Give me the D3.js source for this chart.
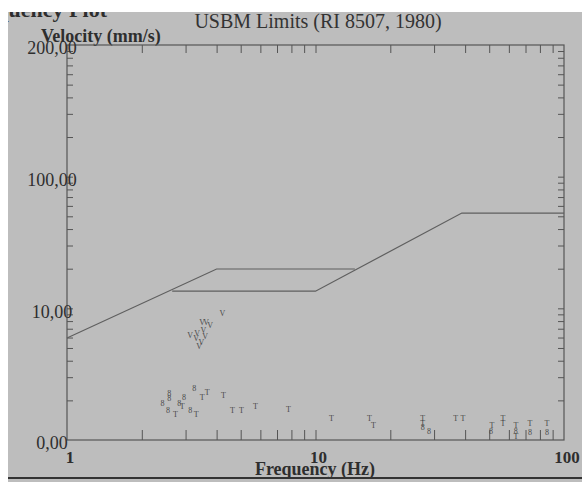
<!DOCTYPE html>
<html>
<head>
<meta charset="utf-8">
<script src="https://cdn.jsdelivr.net/npm/d3@7"></script>
<style>
  body { margin: 0; background: #fff; }
  svg { display: block; }
  .serif { font-family: "Liberation Serif", "DejaVu Serif", serif; }
</style>
</head>
<body>
<svg id="chart" width="582" height="482"></svg>
<script>
// USBM limit curves (frequency Hz, velocity mm/s)
const drywallLimit = [[1, 5.95], [4.0, 19.9], [14.4, 19.9]];
const plasterLimit = [[2.65, 13.5], [10.0, 13.5], [38.8, 52.9], [100, 52.9]];

// event markers
const vPoints = [[4.22, 9.21], [3.50, 7.87], [3.63, 7.87], [3.77, 7.47], [3.54, 6.84],
  [3.34, 6.49], [3.31, 5.95], [3.13, 6.27], [3.47, 5.55], [3.40, 5.17], [3.60, 6.17]];
const tPoints = [[3.50, 2.12], [3.67, 2.31], [4.26, 2.20], [2.91, 1.81], [2.73, 1.57],
  [3.31, 1.57], [4.63, 1.69], [5.03, 1.69], [5.73, 1.81], [7.78, 1.72], [11.6, 1.47],
  [16.5, 1.47], [17.1, 1.30], [27.0, 1.47], [27.0, 1.35], [36.7, 1.47], [39.2, 1.47],
  [51.3, 1.30], [56.8, 1.47], [56.8, 1.35], [64.0, 1.30], [64.0, 1.07], [72.9, 1.35],
  [85.4, 1.35]];
const lPoints = [[2.58, 2.27], [2.58, 2.08], [2.42, 1.91], [2.96, 2.12], [3.25, 2.48],
  [2.83, 1.91], [2.55, 1.69], [3.13, 1.69], [27.0, 1.25], [28.6, 1.17], [50.8, 1.17],
  [64.0, 1.17], [72.9, 1.15], [85.4, 1.15]];

const xTickValues = [1, 10, 100];
const xTickLabels = ["1", "10", "100"];
const yTickValues = [1, 10, 100, 1000];
const yTickLabels = ["0,00", "10,00", "100,00", "200,00"];

const svg = d3.select("#chart");
const plotLeft = 67, plotRight = 564, plotTop = 45, plotBottom = 440;

const x = d3.scaleLog().domain([1, 100]).range([plotLeft, plotRight]);
const y = d3.scaleLog().domain([1, 1000]).range([plotBottom, plotTop]);

// photographed page
svg.append("rect").attr("x", 8).attr("y", 12).attr("width", 574).attr("height", 470)
  .attr("fill", "#bdbdbd");
svg.append("clipPath").attr("id", "page")
  .append("rect").attr("x", 8).attr("y", 12).attr("width", 574).attr("height", 470);

const ink = "#2e2e2e";

svg.append("text").attr("class", "serif").attr("clip-path", "url(#page)")
  .attr("x", 107).attr("y", 17).attr("text-anchor", "end")
  .attr("font-size", 22).attr("font-weight", "bold").attr("fill", ink)
  .text("Frequency Plot");

svg.append("text").attr("class", "serif")
  .attr("x", 318).attr("y", 28).attr("text-anchor", "middle")
  .attr("font-size", 20).attr("fill", "#333")
  .text("USBM Limits (RI 8507, 1980)");

svg.append("text").attr("class", "serif")
  .attr("x", 41).attr("y", 42)
  .attr("font-size", 18).attr("font-weight", "bold").attr("fill", ink)
  .text("Velocity (mm/s)");

// minor ticks, all pointing inward
const xMinor = x.ticks().filter(d => d > 1 && d < 100);
const yMinor = y.ticks().filter(d => d > 1 && d < 1000);

function tickStyle(g) {
  g.select(".domain").remove();
  g.selectAll(".tick line").attr("stroke", "#555").attr("stroke-width", 1);
}

svg.append("g").attr("transform", `translate(0,${plotBottom})`)
  .call(d3.axisBottom(x).tickValues(xMinor).tickSize(-10).tickFormat(""))
  .call(tickStyle);
svg.append("g").attr("transform", `translate(0,${plotTop})`)
  .call(d3.axisTop(x).tickValues(xMinor).tickSize(-8).tickFormat(""))
  .call(tickStyle);
svg.append("g").attr("transform", `translate(${plotLeft},0)`)
  .call(d3.axisLeft(y).tickValues(yMinor).tickSize(-6).tickFormat(""))
  .call(tickStyle);
svg.append("g").attr("transform", `translate(${plotRight},0)`)
  .call(d3.axisRight(y).tickValues(yMinor).tickSize(-6).tickFormat(""))
  .call(tickStyle);

// frame
svg.append("rect").attr("x", plotLeft).attr("y", plotTop)
  .attr("width", plotRight - plotLeft).attr("height", plotBottom - plotTop)
  .attr("fill", "none").attr("stroke", "#555").attr("stroke-width", 1.2);

// tick labels
svg.selectAll(".ylab").data(yTickValues).join("text")
  .attr("class", "serif")
  .attr("x", 52).attr("y", d => y(d) + 3)
  .attr("dy", "0.35em").attr("text-anchor", "middle")
  .attr("font-size", 18).attr("fill", ink)
  .text((d, i) => yTickLabels[i]);

svg.selectAll(".xlab").data(xTickValues).join("text")
  .attr("class", "serif")
  .attr("x", d => x(d) + 3).attr("y", 463)
  .attr("text-anchor", "middle")
  .attr("font-size", 17).attr("font-weight", "bold").attr("fill", ink)
  .text((d, i) => xTickLabels[i]);

svg.append("text").attr("class", "serif")
  .attr("x", 315).attr("y", 475).attr("text-anchor", "middle")
  .attr("font-size", 18).attr("font-weight", "bold").attr("fill", ink)
  .text("Frequency (Hz)");

svg.append("line").attr("x1", 8).attr("x2", 582).attr("y1", 478).attr("y2", 478)
  .attr("stroke", "#333").attr("stroke-width", 2);

// limit curves
const line = d3.line().x(d => x(d[0])).y(d => y(d[1]));
[drywallLimit, plasterLimit].forEach(series => {
  svg.append("path").datum(series)
    .attr("fill", "none").attr("stroke", "#5f5f5f").attr("stroke-width", 1.2)
    .attr("d", line);
});

// markers
const markers = [
  { data: vPoints, glyph: "V" },
  { data: tPoints, glyph: "T" },
  { data: lPoints, glyph: "8" }
];
markers.forEach(m => {
  svg.append("g").selectAll("text").data(m.data).join("text")
    .attr("class", "serif")
    .attr("x", d => x(d[0])).attr("y", d => y(d[1]))
    .attr("dy", "0.35em").attr("text-anchor", "middle")
    .attr("font-size", 8).attr("fill", "#4a4a4a")
    .text(m.glyph);
});
</script>
</body>
</html>
